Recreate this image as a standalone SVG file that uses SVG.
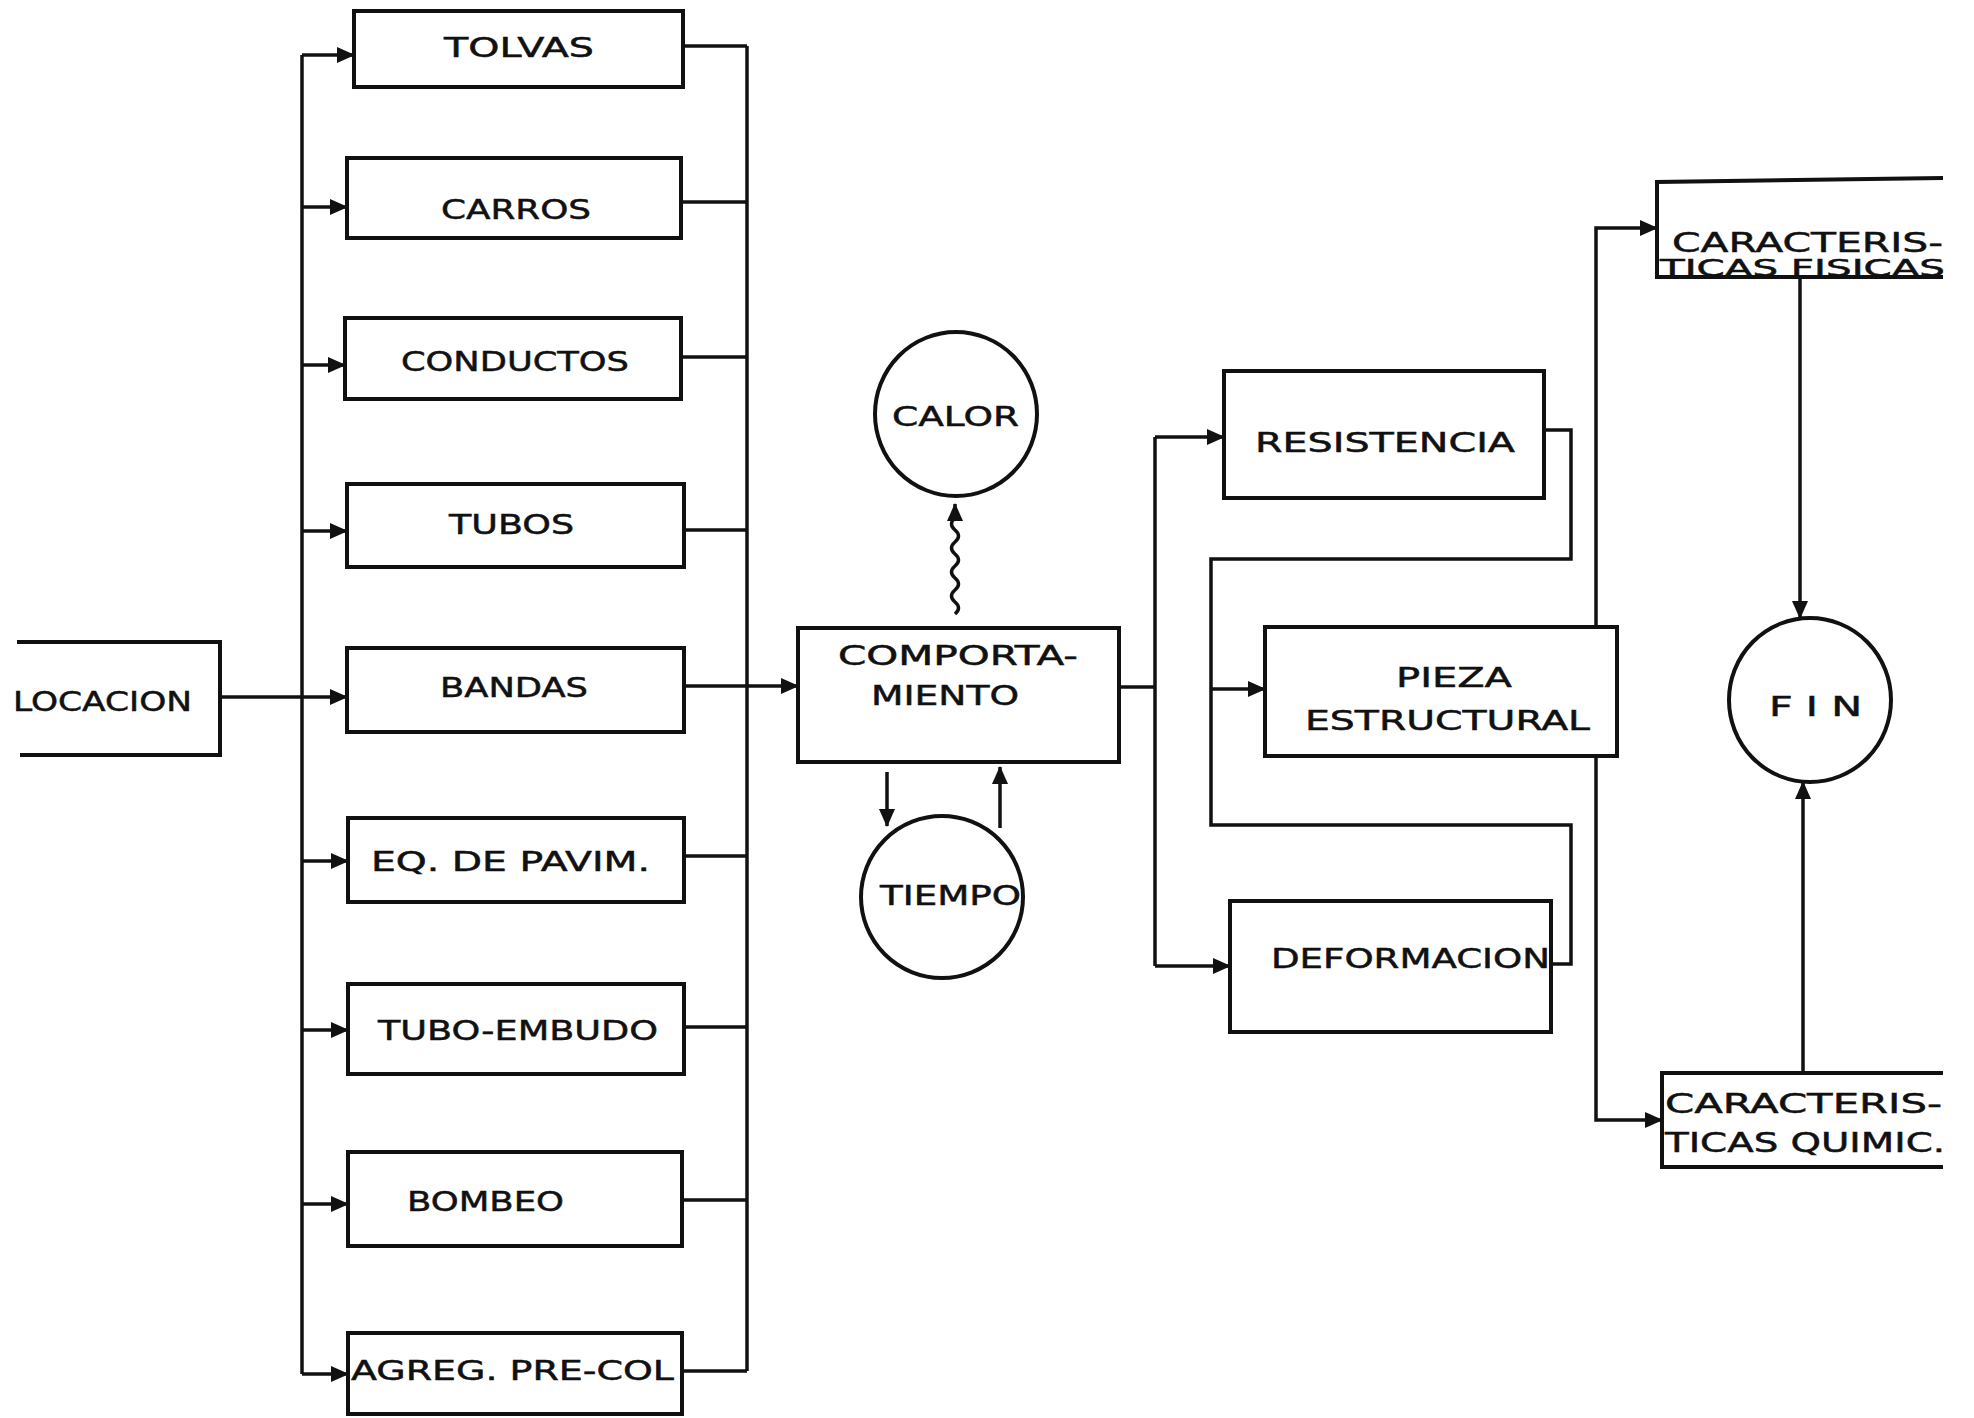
<svg xmlns="http://www.w3.org/2000/svg" width="1974" height="1418" viewBox="0 0 1974 1418">
<defs>
<marker id="ah" viewBox="0 0 18 16" refX="17" refY="8" markerWidth="18" markerHeight="16" orient="auto" markerUnits="userSpaceOnUse">
<path d="M0,0 L18,8 L0,16 Z" fill="#111"/>
</marker>
</defs>
<style>
.box{fill:none;stroke:#111;stroke-width:4}
.ln{fill:none;stroke:#111;stroke-width:3.5}
.ar{fill:none;stroke:#111;stroke-width:3.5;marker-end:url(#ah)}
text{font-family:"DejaVu Sans","Liberation Sans",sans-serif;font-size:27px;fill:#111;stroke:#111;stroke-width:0.5}
.sm{font-size:23px}
</style>
<rect width="1974" height="1418" fill="#fff"/>
<g id="connectors">
<line class="ln" x1="302" y1="55" x2="302" y2="1374"/>
<line class="ar" x1="302" y1="55" x2="354" y2="55"/>
<line class="ar" x1="302" y1="207" x2="347" y2="207"/>
<line class="ar" x1="302" y1="365" x2="345" y2="365"/>
<line class="ar" x1="302" y1="531" x2="347" y2="531"/>
<line class="ar" x1="220" y1="697" x2="347" y2="697"/>
<line class="ar" x1="302" y1="861" x2="348" y2="861"/>
<line class="ar" x1="302" y1="1030" x2="348" y2="1030"/>
<line class="ar" x1="302" y1="1204" x2="348" y2="1204"/>
<line class="ar" x1="302" y1="1374" x2="348" y2="1374"/>
<line class="ln" x1="747" y1="46" x2="747" y2="1371"/>
<line class="ln" x1="683" y1="46" x2="747" y2="46"/>
<line class="ln" x1="681" y1="202" x2="747" y2="202"/>
<line class="ln" x1="681" y1="357" x2="747" y2="357"/>
<line class="ln" x1="684" y1="530" x2="747" y2="530"/>
<line class="ar" x1="684" y1="686" x2="798" y2="686"/>
<line class="ln" x1="684" y1="856" x2="747" y2="856"/>
<line class="ln" x1="684" y1="1027" x2="747" y2="1027"/>
<line class="ln" x1="682" y1="1200" x2="747" y2="1200"/>
<line class="ln" x1="682" y1="1371" x2="747" y2="1371"/>
<path class="ar" d="M955,614 q7,-6 0,-12 q-7,-6 0,-12 q7,-6 0,-12 q-7,-6 0,-12 q7,-6 0,-12 q-7,-6 0,-12 q7,-6 0,-12 q-7,-6 0,-12 L955,504"/>
<line class="ar" x1="887" y1="772" x2="887" y2="826"/>
<line class="ar" x1="1000" y1="828" x2="1000" y2="767"/>
<polyline class="ln" points="1119,687 1155,687"/>
<line class="ln" x1="1155" y1="437" x2="1155" y2="966"/>
<line class="ar" x1="1155" y1="437" x2="1224" y2="437"/>
<line class="ar" x1="1155" y1="966" x2="1230" y2="966"/>
<polyline class="ln" points="1544,430 1571,430 1571,559 1211,559 1211,825 1571,825 1571,964 1551,964"/>
<line class="ar" x1="1211" y1="689" x2="1265" y2="689"/>
<polyline class="ar" points="1596,627 1596,228 1657,228"/>
<polyline class="ar" points="1596,756 1596,1120 1662,1120"/>
<line class="ar" x1="1800" y1="277" x2="1800" y2="618"/>
<line class="ar" x1="1803" y1="1073" x2="1803" y2="782"/>
</g>
<g id="locacion"><path class="box" d="M17,642 L220,642 L220,755 L20,755"/><text x="13" y="711" textLength="179" lengthAdjust="spacingAndGlyphs">LOCACION</text></g>
<g id="tolvas"><rect class="box" x="354" y="11" width="329" height="76"/><text x="444" y="57" textLength="150" lengthAdjust="spacingAndGlyphs">TOLVAS</text></g>
<g id="carros"><rect class="box" x="347" y="158" width="334" height="80"/><text x="441" y="219" textLength="150" lengthAdjust="spacingAndGlyphs">CARROS</text></g>
<g id="conductos"><rect class="box" x="345" y="318" width="336" height="81"/><text x="401" y="371" textLength="228" lengthAdjust="spacingAndGlyphs">CONDUCTOS</text></g>
<g id="tubos"><rect class="box" x="347" y="484" width="337" height="83"/><text x="449" y="534" textLength="125" lengthAdjust="spacingAndGlyphs">TUBOS</text></g>
<g id="bandas"><rect class="box" x="347" y="648" width="337" height="84"/><text x="440" y="697" textLength="148" lengthAdjust="spacingAndGlyphs">BANDAS</text></g>
<g id="eqpavim"><rect class="box" x="348" y="818" width="336" height="84"/><text x="371" y="871" textLength="279" lengthAdjust="spacingAndGlyphs">EQ. DE PAVIM.</text></g>
<g id="tuboembudo"><rect class="box" x="348" y="984" width="336" height="90"/><text x="378" y="1040" textLength="280" lengthAdjust="spacingAndGlyphs">TUBO-EMBUDO</text></g>
<g id="bombeo"><rect class="box" x="348" y="1152" width="334" height="94"/><text x="407" y="1211" textLength="157" lengthAdjust="spacingAndGlyphs">BOMBEO</text></g>
<g id="agreg"><rect class="box" x="348" y="1333" width="334" height="81"/><text x="351" y="1380" textLength="323" lengthAdjust="spacingAndGlyphs">AGREG. PRE-COL</text></g>
<g id="comportamiento"><rect class="box" x="798" y="628" width="321" height="134"/><text x="838" y="665" textLength="240" lengthAdjust="spacingAndGlyphs">COMPORTA-</text><text x="871" y="705" textLength="148" lengthAdjust="spacingAndGlyphs">MIENTO</text></g>
<g id="calor"><ellipse class="box" cx="956" cy="414" rx="81" ry="82"/><text x="892" y="426" textLength="127" lengthAdjust="spacingAndGlyphs">CALOR</text></g>
<g id="tiempo"><ellipse class="box" cx="942" cy="897" rx="81" ry="81"/><text x="880" y="905" textLength="141" lengthAdjust="spacingAndGlyphs">TIEMPO</text></g>
<g id="resistencia"><rect class="box" x="1224" y="371" width="320" height="127"/><text x="1255" y="452" textLength="260" lengthAdjust="spacingAndGlyphs">RESISTENCIA</text></g>
<g id="pieza"><rect class="box" x="1265" y="627" width="352" height="129"/><text x="1396" y="687" textLength="116" lengthAdjust="spacingAndGlyphs">PIEZA</text><text x="1305" y="730" textLength="285" lengthAdjust="spacingAndGlyphs">ESTRUCTURAL</text></g>
<g id="deformacion"><rect class="box" x="1230" y="901" width="321" height="131"/><text x="1271" y="968" textLength="279" lengthAdjust="spacingAndGlyphs">DEFORMACION</text></g>
<g id="fisicas"><path class="box" d="M1943,178 L1657,182 L1657,277 L1943,277"/><text x="1672" y="252" textLength="271" lengthAdjust="spacingAndGlyphs">CARACTERIS-</text><text class="sm" x="1660" y="276" textLength="285" lengthAdjust="spacingAndGlyphs">TICAS FISICAS</text></g>
<g id="quimic"><path class="box" d="M1943,1073 L1662,1073 L1662,1167 L1943,1167"/><text x="1665" y="1113" textLength="277" lengthAdjust="spacingAndGlyphs">CARACTERIS-</text><text x="1665" y="1152" textLength="280" lengthAdjust="spacingAndGlyphs">TICAS QUIMIC.</text></g>
<g id="fin"><ellipse class="box" cx="1810" cy="700" rx="81" ry="82"/><text x="1769" y="716" textLength="93" lengthAdjust="spacingAndGlyphs">F I N</text></g>
</svg>
